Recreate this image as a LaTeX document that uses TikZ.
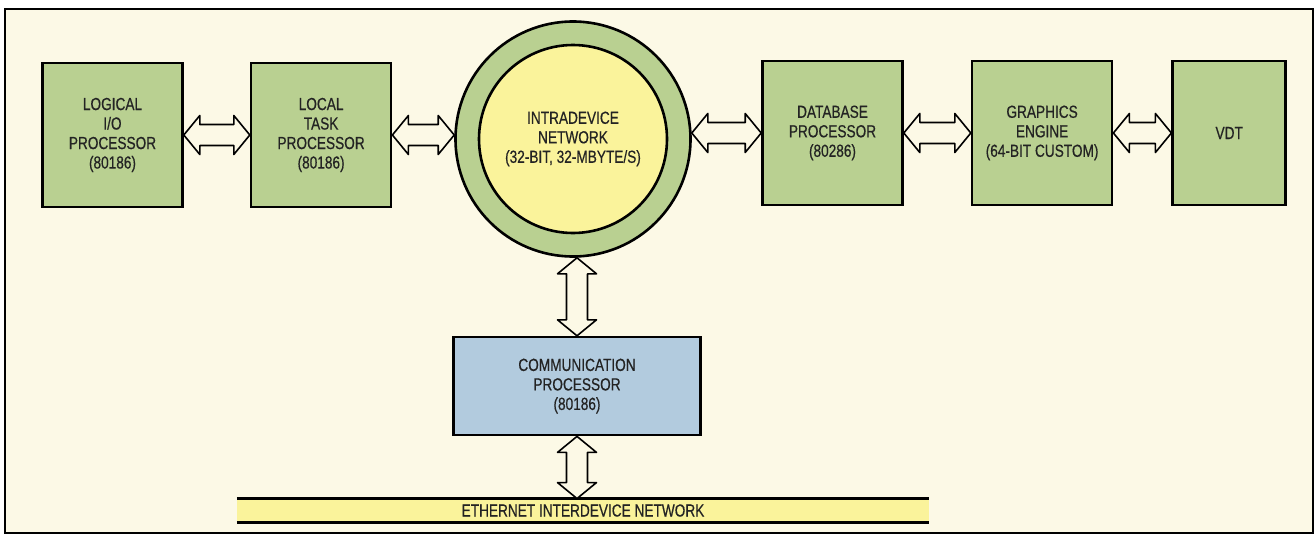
\documentclass[tikz,border=0pt]{standalone}
\usepackage{fontspec}
\setmainfont{Liberation Sans}[FakeStretch=0.78, FakeBold=0.5]
\usetikzlibrary{positioning, calc}

\definecolor{paper}{RGB}{252,249,230}
\definecolor{unitgreen}{RGB}{185,208,145}
\definecolor{netyellow}{RGB}{250,243,155}
\definecolor{commblue}{RGB}{178,203,222}
\definecolor{inkgray}{RGB}{35,35,35}

\begin{document}
\begin{tikzpicture}[
  x=1pt, y=-1pt,
  node distance=66pt,
  label/.style={font=\fontsize{17.5}{19.5}\selectfont, text=inkgray, align=center},
  unit/.style={label, rectangle, draw=black, line width=2.6pt, fill=unitgreen, inner sep=0pt, minimum width=140pt, minimum height=144pt},
  comm/.style={unit, fill=commblue, minimum width=247pt, minimum height=98pt},
  ring/.style={circle, draw=black, line width=2.6pt, fill=unitgreen, inner sep=0pt, minimum size=235pt},
  core/.style={label, circle, draw=black, line width=2.6pt, fill=netyellow, inner sep=0pt, minimum size=188pt},
  hbus/.style={draw=black, fill=paper, line width=1.6pt, line join=round,
    to path={-- ++(16pt,19.5pt) -- ++(0,-9pt) -- ($(\tikztotarget)+(-16pt,10.5pt)$) -- ++(0,9pt)
      -- (\tikztotarget) -- ++(-16pt,-19.5pt) -- ++(0,9pt) -- ($(\tikztostart)+(16pt,-10.5pt)$) -- ++(0,-9pt) -- cycle}},
  vbus/.style={draw=black, fill=paper, line width=1.6pt, line join=round,
    to path={-- ++(19.5pt,-16pt) -- ++(-9pt,0) -- ($(\tikztotarget)+(10.5pt,16pt)$) -- ++(9pt,0)
      -- (\tikztotarget) -- ++(-19.5pt,16pt) -- ++(9pt,0) -- ($(\tikztostart)+(-10.5pt,-16pt)$) -- ++(-9pt,0) -- cycle}}
]

\useasboundingbox (0,0) rectangle (1315,536);
\fill[white] (0,0) rectangle (1315,536);
\draw[line width=2pt, fill=paper] (5,9) rectangle (1313,533);

% Nodes
\node[unit] (logio) at (112.5,135) {LOGICAL\\I/O\\PROCESSOR\\(80186)};
\node[unit, right=of logio] (task) {LOCAL\\TASK\\PROCESSOR\\(80186)};

\node[ring] (ring) at (573,139) {};
\node[core] (intra) at (ring.center) {INTRADEVICE\\NETWORK\\(32-BIT, 32-MBYTE/S)};

\node[unit] (db) at (832.5,133) {DATABASE\\PROCESSOR\\(80286)};
\node[unit, right=67pt of db] (gfx) {GRAPHICS\\ENGINE\\(64-BIT CUSTOM)};
\node[unit, right=58pt of gfx, minimum width=113pt] (vdt) {VDT};

\node[comm, below=78pt of ring, xshift=4pt] (comm) {COMMUNICATION\\PROCESSOR\\(80186)};

\node[label, fill=netyellow, inner sep=0pt, minimum width=692pt, minimum height=23.5pt] (ether) at (583,510.5) {ETHERNET INTERDEVICE NETWORK};
\draw[line width=3.5pt] (ether.north west) -- (ether.north east);
\draw[line width=3.5pt] (ether.south west) -- (ether.south east);

% Arrows
\path[hbus] (logio.east) to (task.west);
\path[hbus] (task.east) to (task.east -| ring.west);
\path[hbus] (db.west -| ring.east) to (db.west);
\path[hbus] (db.east) to (gfx.west);
\path[hbus] (gfx.east) to (vdt.west);
\path[vbus] (comm.north |- ring.south) to (comm.north);
\path[vbus] (comm.south) to (comm.south |- ether.north);

\end{tikzpicture}
\end{document}
